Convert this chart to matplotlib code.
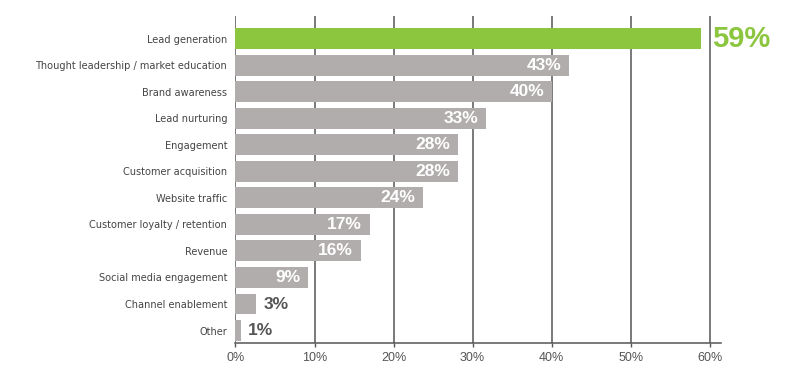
import matplotlib
matplotlib.use('Agg')
import matplotlib.pyplot as plt

# Chart data
categories = ['Lead generation', 'Thought leadership / market education', 'Brand awareness',
              'Lead nurturing', 'Engagement', 'Customer acquisition', 'Website traffic',
              'Customer loyalty / retention', 'Revenue', 'Social media engagement',
              'Channel enablement', 'Other']
values = [58.9, 42.2, 40.1, 31.7, 28.2, 28.2, 23.7, 17.0, 15.9, 9.2, 2.6, 0.7]
labels = ['59%', '43%', '40%', '33%', '28%', '28%', '24%', '17%', '16%', '9%', '3%', '1%']
xticks = [0, 10, 20, 30, 40, 50, 60]
xtick_labels = ['0%', '10%', '20%', '30%', '40%', '50%', '60%']

green = '#8CC63F'
grey_bar = '#B2ADAD'
dark = '#555555'

fig = plt.figure(figsize=(8.12, 3.79), dpi=100)
ax = fig.add_axes([0.290, 0.0942, 0.5976, 0.8636])

colors = [green] + [grey_bar] * (len(values) - 1)
ypos = list(range(len(values)))
ax.barh(ypos, values, height=0.79, color=colors, zorder=3)

ax.set_xlim(0, 61.4)
ax.set_ylim(11.48, -0.85)

# vertical grid lines
for x in xticks:
    ax.axvline(x, color=dark, lw=1.1, zorder=1)

ax.set_xticks(xticks)
ax.set_xticklabels(xtick_labels, family='Liberation Sans', fontsize=9, color=dark)
ax.tick_params(axis='x', length=3, width=1, color=dark, pad=3)
ax.set_yticks(ypos)
ax.set_yticklabels(categories, family='DejaVu Sans', fontstretch='condensed',
                   fontsize=7.8, color='#444444')
ax.tick_params(axis='y', length=0, pad=6)

for s in ['top', 'right', 'left']:
    ax.spines[s].set_visible(False)
ax.spines['bottom'].set_color(dark)
ax.spines['bottom'].set_linewidth(1.1)

# value labels
for i, (v, lab) in enumerate(zip(values, labels)):
    if i == 0:
        ax.text(v + 1.4, i, lab, ha='left', va='center', fontsize=21,
                fontweight='bold', color=green, family='Liberation Sans')
    elif v < 5:
        ax.text(v + 0.9, i, lab, ha='left', va='center', fontsize=12.5,
                fontweight='bold', color=dark, family='Liberation Sans')
    else:
        ax.text(v - 1.0, i, lab, ha='right', va='center', fontsize=12.5,
                fontweight='bold', color='white', family='Liberation Sans', zorder=4)

fig.savefig('out.png', dpi=100)
